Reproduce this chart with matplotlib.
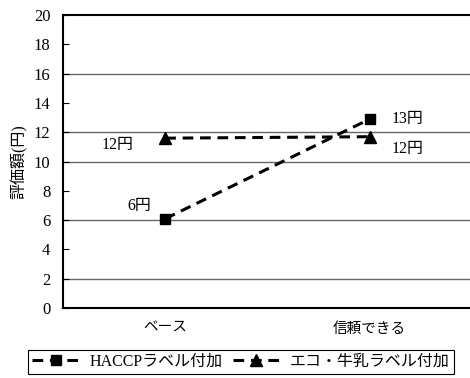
import matplotlib
matplotlib.use("Agg")
import matplotlib.pyplot as plt

plt.rcParams['font.family'] = ['Liberation Serif', 'Noto Sans CJK JP', 'DejaVu Sans']

categories = ['ベース', '信頼できる']
haccp = [6.1, 12.9]
eco = [11.6, 11.7]
haccp_labels = ['6円', '13円']
eco_labels = ['12円', '12円']
series_names = ['HACCPラベル付加', 'エコ・牛乳ラベル付加']
grid_values = [2, 6, 10, 12, 16]

fig = plt.figure(figsize=(4.70, 3.78), dpi=100)
ax = fig.add_axes([0.134, 0.185, 0.870, 0.775])

for g in grid_values:
    ax.axhline(g, color='0.4', lw=1.0, zorder=1)

x = [0.5, 1.5]
dash = (0, (3.5, 2.2))
l1, = ax.plot(x, haccp, color='black', lw=2.2, linestyle=dash, marker='s',
              markersize=7, zorder=3)
l2, = ax.plot(x, eco, color='black', lw=2.2, linestyle=dash, marker='^',
              markersize=8, zorder=3)

# value labels
kw = dict(textcoords='offset points', fontsize=11.5, ha='center', va='center')
ax.annotate(haccp_labels[0], (x[0], haccp[0]), xytext=(-19, 9), **kw)
ax.annotate(eco_labels[0], (x[0], eco[0]), xytext=(-34, -5), **kw)
ax.annotate(haccp_labels[1], (x[1], haccp[1]), xytext=(27, 0), **kw)
ax.annotate(eco_labels[1], (x[1], eco[1]), xytext=(27, -9), **kw)

ax.set_xlim(0, 2)
ax.set_ylim(0, 20)
ax.set_yticks(range(0, 21, 2))
ax.set_xticks(x)
ax.set_xticklabels(categories, fontsize=10.5)
ax.tick_params(axis='x', length=0, pad=10)
ax.tick_params(axis='y', direction='in', length=4, labelsize=12, pad=9)
ax.spines['right'].set_visible(False)
for s in ['left', 'bottom', 'top']:
    ax.spines[s].set_linewidth(1.5)
ax.set_ylabel('評価額(円)', fontsize=11.5, labelpad=4)

leg = fig.legend([l1, l2], series_names, loc='center',
                 bbox_to_anchor=(0.513, 1 - 362 / 378), ncol=2, fontsize=11.5,
                 handlelength=3, columnspacing=0.6, handletextpad=0.6,
                 borderpad=0.25, fancybox=False, edgecolor='black', framealpha=1)
leg.get_frame().set_linewidth(0.8)

fig.savefig('out.png', dpi=100)
